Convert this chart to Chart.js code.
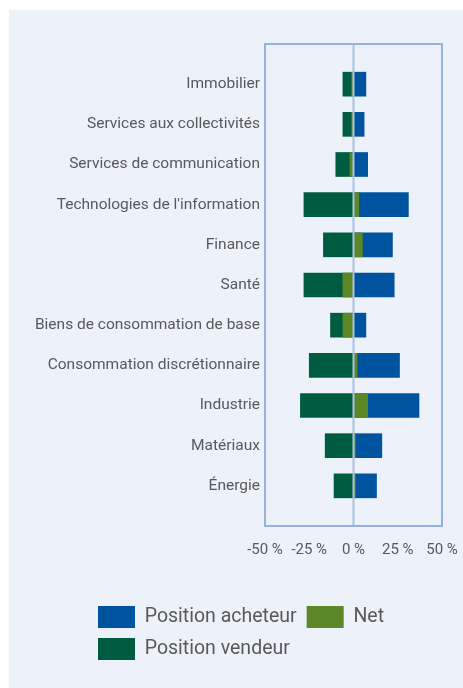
<!DOCTYPE html>
<html><head><meta charset="utf-8">
<script src="https://cdn.jsdelivr.net/npm/chart.js@4"></script>
<style>
html,body{margin:0;padding:0;background:#fff;}
#panel{position:absolute;left:9px;top:10px;width:454px;height:678px;background:#edf1f9;}
#wrap{position:absolute;left:0;top:0;width:463px;height:688px;}
</style></head><body>
<div id="panel"></div>
<div id="wrap"><canvas id="c" width="463" height="688"></canvas></div>
<script>
const categories = ['Immobilier','Services aux collectivités','Services de communication',"Technologies de l'information",'Finance','Santé','Biens de consommation de base','Consommation discrétionnaire','Industrie','Matériaux','Énergie'];
const acheteur = [7, 6, 8, 31, 22, 23, 7, 26, 37, 16, 13];
const netValues = [-1, -1, -2, 3, 5, -6, -6, 2, 8, 1, 1];
const vendeur = [-6, -6, -10, -28, -17, -28, -13, -25, -30, -16, -11];
const xTickLabels = ['-50 %','-25 %','0 %','25 %','50 %'];
const seriesNames = ['Position acheteur','Net','Position vendeur'];

const FONT = "Roboto, sans-serif";
const TEXT = '#58595b';
const pad = a => [null, ...a, null];

const framePlugin = {
  id: 'frame',
  afterLayout(chart) {
    if (chart.legend) { chart.legend.left = 88; chart.legend.top += 2; }
  },
  afterDatasetsDraw(chart) {
    const {ctx, chartArea: a, scales} = chart;
    ctx.save();
    const x0 = scales.x.getPixelForValue(0);
    ctx.strokeStyle = '#a9c2e4';
    ctx.lineWidth = 2;
    ctx.beginPath(); ctx.moveTo(x0, a.top); ctx.lineTo(x0, a.bottom); ctx.stroke();
    ctx.strokeStyle = '#94b2db';
    ctx.lineWidth = 2;
    ctx.strokeRect(a.left, a.top, a.right - a.left, a.bottom - a.top);
    ctx.restore();
  }
};

new Chart(document.getElementById('c'), {
  type: 'bar',
  data: {
    labels: ['', ...categories, ''],
    datasets: [
      {label: seriesNames[0], data: pad(acheteur), backgroundColor: '#00549f', order: 1},
      {label: seriesNames[1], data: pad(netValues), backgroundColor: '#5c8727', order: 0},
      {label: seriesNames[2], data: pad(vendeur), backgroundColor: '#005c41', order: 2}
    ]
  },
  options: {
    indexAxis: 'y',
    responsive: false,
    animation: false,
    layout: {padding: {top: 44, right: 21, left: 25, bottom: 20}},
    datasets: {bar: {grouped: false, barThickness: 24, borderWidth: 0}},
    scales: {
      x: {
        min: -50, max: 50,
        grid: {display: false, drawTicks: true, tickLength: 13},
        border: {display: false},
        afterFit(s) { s.height = 68; },
        ticks: {
          stepSize: 25, padding: 2, color: TEXT,
          font: {family: FONT, size: 15},
          callback: (v, i) => xTickLabels[i]
        }
      },
      y: {
        offset: false,
        grid: {display: false, drawTicks: false},
        border: {display: false},
        afterFit(s) { s.width = 240; },
        ticks: {autoSkip: false, padding: 5, color: TEXT, font: {family: FONT, size: 15.5}}
      }
    },
    plugins: {
      tooltip: {enabled: false},
      legend: {
        position: 'bottom', align: 'start',
        labels: {
          boxWidth: 37, boxHeight: 22, padding: 10, color: TEXT,
          font: {family: FONT, size: 19.5},
          sort: (a, b) => a.datasetIndex - b.datasetIndex
        }
      }
    }
  },
  plugins: [framePlugin]
});
</script>
</body></html>
